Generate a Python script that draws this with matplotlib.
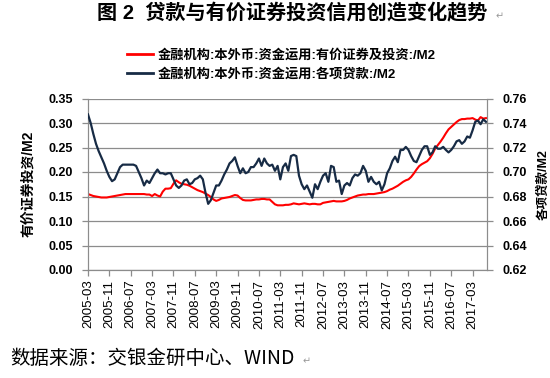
import numpy as np
import matplotlib
matplotlib.use("Agg")
import matplotlib.pyplot as plt
from matplotlib.lines import Line2D
from matplotlib.transforms import ScaledTranslation

plt.rcParams["font.family"] = ["Liberation Sans", "Noto Sans CJK SC", "DejaVu Sans"]

RED, NAVY, GRID = "#FF0000", "#172B45", "#8C8C8C"

# 月度数据 2005-03 起
securities = [  # 有价证券及投资/M2 (左轴)
    0.155, 0.153, 0.151, 0.150, 0.149, 0.148, 0.148, 0.148, 0.149, 0.150,
    0.151, 0.152, 0.153, 0.154, 0.155, 0.155, 0.155, 0.155, 0.155, 0.155,
    0.155, 0.155, 0.154, 0.154, 0.151, 0.155, 0.152, 0.150, 0.160, 0.166,
    0.166, 0.167, 0.176, 0.183, 0.179, 0.176, 0.175, 0.174, 0.172, 0.169,
    0.166, 0.163, 0.161, 0.159, 0.156, 0.153, 0.149, 0.144, 0.141, 0.143,
    0.146, 0.147, 0.148, 0.149, 0.151, 0.153, 0.152, 0.147, 0.143, 0.142,
    0.142, 0.142, 0.143, 0.144, 0.144, 0.145, 0.145, 0.144, 0.144, 0.139,
    0.134, 0.132, 0.132, 0.132, 0.133, 0.133, 0.134, 0.136, 0.135, 0.134,
    0.135, 0.136, 0.135, 0.134, 0.135, 0.135, 0.134, 0.134, 0.137, 0.138,
    0.139, 0.140, 0.141, 0.140, 0.140, 0.140, 0.141, 0.143, 0.146, 0.148,
    0.150, 0.152, 0.153, 0.154, 0.154, 0.155, 0.155, 0.155, 0.156, 0.157,
    0.158, 0.159, 0.161, 0.164, 0.166, 0.169, 0.172, 0.176, 0.180, 0.183,
    0.185, 0.190, 0.197, 0.205, 0.212, 0.216, 0.219, 0.222, 0.228, 0.237,
    0.248, 0.255, 0.262, 0.270, 0.279, 0.287, 0.292, 0.297, 0.302, 0.306,
    0.308, 0.308, 0.309, 0.309, 0.310, 0.307, 0.305, 0.312, 0.309, 0.310,
]
loans = [  # 各项贷款/M2 (右轴)
    0.747, 0.740, 0.731, 0.723, 0.717, 0.712, 0.707, 0.701, 0.696, 0.6925,
    0.694, 0.699, 0.704, 0.706, 0.706, 0.706, 0.706, 0.706, 0.705, 0.700,
    0.695, 0.689, 0.693, 0.691, 0.695, 0.699, 0.702, 0.699, 0.699, 0.698,
    0.699, 0.699, 0.694, 0.689, 0.687, 0.689, 0.693, 0.694, 0.690, 0.691,
    0.694, 0.695, 0.697, 0.694, 0.683, 0.674, 0.677, 0.683, 0.689, 0.689,
    0.693, 0.698, 0.702, 0.707, 0.709, 0.712, 0.705, 0.699, 0.703, 0.699,
    0.700, 0.704, 0.704, 0.707, 0.711, 0.705, 0.711, 0.707, 0.705, 0.706,
    0.701, 0.705, 0.694, 0.704, 0.707, 0.701, 0.713, 0.714, 0.713, 0.697,
    0.690, 0.686, 0.689, 0.684, 0.679, 0.690, 0.686, 0.692, 0.697, 0.699,
    0.692, 0.705, 0.704, 0.692, 0.693, 0.682, 0.689, 0.691, 0.689, 0.695,
    0.698, 0.697, 0.699, 0.705, 0.701, 0.692, 0.696, 0.692, 0.690, 0.692,
    0.685, 0.690, 0.699, 0.703, 0.709, 0.7125, 0.708, 0.718, 0.718, 0.7205,
    0.718, 0.713, 0.709, 0.708, 0.713, 0.718, 0.721, 0.721, 0.714, 0.716,
    0.721, 0.719, 0.719, 0.7205, 0.718, 0.716, 0.718, 0.721, 0.725, 0.726,
    0.723, 0.725, 0.729, 0.728, 0.734, 0.741, 0.742, 0.739, 0.743, 0.741,
]
tick_labels = [
    "2005-03", "2005-11", "2006-07", "2007-03", "2007-11", "2008-07", "2009-03",
    "2009-11", "2010-07", "2011-03", "2011-11", "2012-07", "2013-03", "2013-11",
    "2014-07", "2015-03", "2015-11", "2016-07", "2017-03",
]
tick_step = 8  # 每 8 个月一个标签

fig = plt.figure(figsize=(5.5, 3.78), dpi=100)
ax = fig.add_axes([88 / 550, 1 - 270 / 378, 399 / 550, 171.5 / 378])
ax2 = ax.twinx()

x = np.arange(len(securities))
ax.plot(x, securities, color=RED, lw=1.5, zorder=3)
ax2.plot(x, loans, color=NAVY, lw=1.6, zorder=3)

ax.set_xlim(0, 149.4)
ax.set_ylim(0, 0.35)
ax.set_yticks(np.arange(0, 0.351, 0.05))
ax.yaxis.set_major_formatter(matplotlib.ticker.FormatStrFormatter("%.2f"))
ax2.set_ylim(0.62, 0.76)
ax2.set_yticks(np.arange(0.62, 0.7601, 0.02))
ax2.yaxis.set_major_formatter(matplotlib.ticker.FormatStrFormatter("%.2f"))
ax.grid(axis="y", color=GRID, lw=0.9)
ax.set_axisbelow(True)

ax.set_xticks(np.arange(len(tick_labels)) * tick_step)
ax.set_xticklabels(tick_labels, rotation=90)
first = ax.get_xticklabels()[0]
first.set_transform(first.get_transform() + ScaledTranslation(3 / 100, 0, fig.dpi_scale_trans))

for a in (ax, ax2):
    for s in a.spines.values():
        s.set_color(GRID)
    a.spines["top"].set_visible(False)
    a.tick_params(colors=GRID, labelcolor="black", length=4, width=0.9, labelsize=9)
ax.tick_params(axis="y", pad=7)
ax2.tick_params(axis="y", pad=7)
ax.tick_params(axis="x", pad=3, labelsize=9.5)
for lab in ax.get_yticklabels() + ax2.get_yticklabels():
    lab.set_fontweight("bold")

ax.set_ylabel("有价证券投资/M2", fontsize=10, fontweight="bold")
ax.yaxis.set_label_coords(-0.133, 0.5)
ax2.set_ylabel("各项贷款/M2", fontsize=9, fontweight="bold")
ax2.yaxis.set_label_coords(1.125, 0.5)

fig.text(292 / 550, 1 - 13 / 378, "图 2  贷款与有价证券投资信用创造变化趋势",
         fontsize=14.5, fontweight="bold", ha="center", va="center")
fig.text(496 / 550, 1 - 16 / 378, "↵", fontsize=7, color="#999999", family="DejaVu Sans",
         ha="left", va="center")

handles = [Line2D([], [], color=RED, lw=2), Line2D([], [], color=NAVY, lw=2)]
labels = ["金融机构:本外币:资金运用:有价证券及投资:/M2", "金融机构:本外币:资金运用:各项贷款:/M2"]
fig.legend(handles, labels, loc="upper left", bbox_to_anchor=(127 / 550, 1 - 49 / 378),
           frameon=False, handlelength=2.0, handletextpad=0.35,
           labelspacing=0.45, borderpad=0, borderaxespad=0,
           prop={"weight": "bold", "size": 9.5})

fig.text(10 / 550, 1 - 358 / 378, "数据来源：交银金研中心、WIND", fontsize=14, va="center",
         family=["Noto Sans CJK SC", "DejaVu Sans"])
fig.text(303 / 550, 1 - 361 / 378, "↵", fontsize=7, color="#999999", family="DejaVu Sans",
         va="center")

fig.savefig("out.png", dpi=100, facecolor="white")
